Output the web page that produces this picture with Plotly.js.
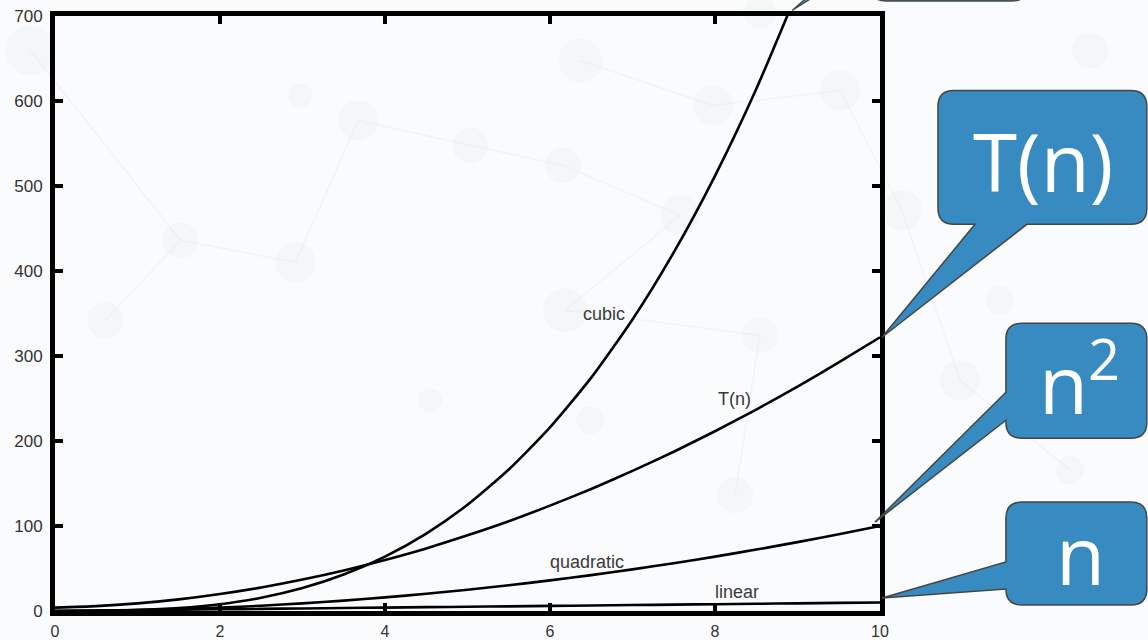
<!DOCTYPE html>
<html>
<head>
<meta charset="utf-8">
<script src="https://cdn.plot.ly/plotly-3.0.1.min.js"></script>
<style>
html,body{margin:0;padding:0;background:#fafbfc;}
#chart{width:1148px;height:640px;}
</style>
</head>
<body>
<div id="chart"></div>
<script>
// ---- data ----
const nValues = [0,0.5,1,1.5,2,2.5,3,3.5,4,4.5,5,5.5,6,6.5,7,7.5,8,8.5,9,9.5,10];
const linearValues = [0,0.5,1,1.5,2,2.5,3,3.5,4,4.5,5,5.5,6,6.5,7,7.5,8,8.5,9,9.5,10];
const quadraticValues = [0,0.25,1,2.25,4,6.25,9,12.25,16,20.25,25,30.25,36,42.25,49,56.25,64,72.25,81,90.25,100];
const cubicValues = [0,0.13,1,3.4,8,15.6,27,42.9,64,91.1,125,166.4,216,274.6,343,421.9,512,614.1,729];
const tnValues = [4,5.7,9,13.7,20,27.7,37,47.7,60,73.6,89,105.6,124,143.6,164.8,187.4,211.5,237,264,292.5,322];
const xTickVals = [0,2,4,6,8,10];
const yTickVals = [0,100,200,300,400,500,600,700];
const curveLabels = ['cubic','T(n)','quadratic','linear'];
const calloutTexts = ['T(n)','n<sup>2</sup>','n'];

// ---- layout geometry (pixels) ----
const L=54.5, R=880, T=15.5, B=611;
function px(x){return (x-L)/(R-L);}
function py(y){return (B-y)/(B-T);}
function path(segs){
  return segs.map(s=>{
    let out=s[0];
    for(let i=1;i<s.length;i+=2){out+=' '+px(s[i]).toFixed(5)+','+py(s[i+1]).toFixed(5);}
    return out;
  }).join(' ')+' Z';
}
function boxBottomPtr(x0,y0,x1,y1,r,bx0,bx1,tx,ty){
  return path([['M',x0+r,y0],['L',x1-r,y0],['Q',x1,y0,x1,y0+r],['L',x1,y1-r],['Q',x1,y1,x1-r,y1],
    ['L',bx1,y1],['L',tx,ty],['L',bx0,y1],['L',x0+r,y1],['Q',x0,y1,x0,y1-r],['L',x0,y0+r],['Q',x0,y0,x0+r,y0]]);
}
function boxLeftPtr(x0,y0,x1,y1,r,by0,by1,tx,ty){
  return path([['M',x0+r,y0],['L',x1-r,y0],['Q',x1,y0,x1,y0+r],['L',x1,y1-r],['Q',x1,y1,x1-r,y1],
    ['L',x0+r,y1],['Q',x0,y1,x0,y1-r],['L',x0,by1],['L',tx,ty],['L',x0,by0],['L',x0,y0+r],['Q',x0,y0,x0+r,y0]]);
}
function plainBox(x0,y0,x1,y1,r){
  return path([['M',x0+r,y0],['L',x1-r,y0],['Q',x1,y0,x1,y0+r],['L',x1,y1-r],['Q',x1,y1,x1-r,y1],
    ['L',x0+r,y1],['Q',x0,y1,x0,y1-r],['L',x0,y0+r],['Q',x0,y0,x0+r,y0]]);
}

const blue='#378BC1', edge='#454545';
const shapes=[];
// faint background network
const bgCircles=[[580,60,22],[713,105,20],[840,90,20],[470,145,18],[358,120,20],[563,165,18],[680,215,20],[295,262,20],[180,240,18],[565,310,22],[760,335,18],[902,210,20],[960,380,20],[735,495,18],[590,420,14],[105,320,18],[30,50,25],[1090,50,18],[1070,470,14],[430,400,12],[300,95,12],[760,12,16],[1000,300,14]];
const bgLines=[[580,60,713,105],[713,105,840,90],[470,145,563,165],[563,165,680,215],[680,215,565,310],[358,120,470,145],[180,240,295,262],[295,262,358,120],[565,310,760,335],[760,335,735,495],[960,380,1070,470],[902,210,960,380],[105,320,180,240],[30,50,180,240],[840,90,902,210]];
bgLines.forEach(l=>shapes.push({type:'line',xref:'paper',yref:'paper',x0:px(l[0]),y0:py(l[1]),x1:px(l[2]),y1:py(l[3]),line:{color:'rgba(220,228,235,0.3)',width:1.5},layer:'below'}));
bgCircles.forEach(c=>shapes.push({type:'circle',xref:'paper',yref:'paper',x0:px(c[0]-c[2]),x1:px(c[0]+c[2]),y0:py(c[1]+c[2]),y1:py(c[1]-c[2]),fillcolor:'rgba(225,232,238,0.22)',line:{width:0},layer:'below'}));

// callouts
shapes.push({type:'path',xref:'paper',yref:'paper',path:path([['M',792,10],['L',826,-20],['L',840,-20]]),fillcolor:blue,line:{color:edge,width:1.2},layer:'above'});
shapes.push({type:'path',xref:'paper',yref:'paper',path:plainBox(871,-90,1027,0.5,15),fillcolor:blue,line:{color:edge,width:1.5},layer:'above'});
shapes.push({type:'path',xref:'paper',yref:'paper',path:boxBottomPtr(938,90,1147,224,16,975,1027,882,337),fillcolor:blue,line:{color:edge,width:1.5},layer:'above'});
shapes.push({type:'path',xref:'paper',yref:'paper',path:boxLeftPtr(1006,323,1147,438,16,392,420,875,522),fillcolor:blue,line:{color:edge,width:1.5},layer:'above'});
shapes.push({type:'path',xref:'paper',yref:'paper',path:boxLeftPtr(1006,502,1147,605,16,562,589,882,598),fillcolor:blue,line:{color:edge,width:1.5},layer:'above'});

const lineStyle={color:'#000',width:2.6,shape:'spline',smoothing:0.6};
const traces=[
  {x:nValues,y:linearValues,mode:'lines',line:lineStyle,name:'linear',hoverinfo:'skip'},
  {x:nValues,y:quadraticValues,mode:'lines',line:lineStyle,name:'quadratic',hoverinfo:'skip'},
  {x:nValues.slice(0,cubicValues.length),y:cubicValues,mode:'lines',line:lineStyle,name:'cubic',hoverinfo:'skip'},
  {x:nValues,y:tnValues,mode:'lines',line:lineStyle,name:'T(n)',hoverinfo:'skip'}
];

const labelFont={family:'Liberation Sans, Arial, sans-serif',size:18,color:'#3a3a3a'};
const calloutFont={family:'Open Sans, sans-serif',size:80,color:'#ffffff'};
function callout(text,x,y){return {xref:'paper',yref:'paper',x:px(x),y:py(y),xanchor:'center',yanchor:'middle',text:text,showarrow:false,font:calloutFont};}
const annotations=[
  {xref:'x',yref:'y',x:6.66,y:349,text:curveLabels[0],showarrow:false,font:labelFont,xanchor:'center',yanchor:'middle'},
  {xref:'x',yref:'y',x:8.24,y:250,text:curveLabels[1],showarrow:false,font:labelFont,xanchor:'center',yanchor:'middle'},
  {xref:'x',yref:'y',x:6.45,y:58,text:curveLabels[2],showarrow:false,font:labelFont,xanchor:'center',yanchor:'middle'},
  {xref:'x',yref:'y',x:8.27,y:22,text:curveLabels[3],showarrow:false,font:labelFont,xanchor:'center',yanchor:'middle'},
  callout(calloutTexts[0],1043,160),
  callout(calloutTexts[1],1080,378),
  callout(calloutTexts[2],1081,553)
];

const axisCommon={showline:true,linewidth:5,linecolor:'#000',mirror:'ticks',ticks:'inside',ticklen:8,tickwidth:4,tickcolor:'#000',showgrid:false,zeroline:false,fixedrange:true};
const layout={
  width:1148,height:640,
  margin:{l:L,r:1148-R,t:T,b:640-B,pad:0},
  paper_bgcolor:'#fafbfc',plot_bgcolor:'rgba(0,0,0,0)',
  showlegend:false,
  xaxis:Object.assign({},axisCommon,{range:[0,10],tickvals:xTickVals,ticklabelstandoff:2,
    tickfont:{family:'Liberation Sans, Arial, sans-serif',size:16,color:'#333'}}),
  yaxis:Object.assign({},axisCommon,{range:[0,700],tickvals:yTickVals,ticklabelstandoff:4,
    tickfont:{family:'Liberation Sans, Arial, sans-serif',size:17,color:'#333'}}),
  shapes:shapes,annotations:annotations
};
Plotly.newPlot('chart',traces,layout,{staticPlot:true});
</script>
</body>
</html>
